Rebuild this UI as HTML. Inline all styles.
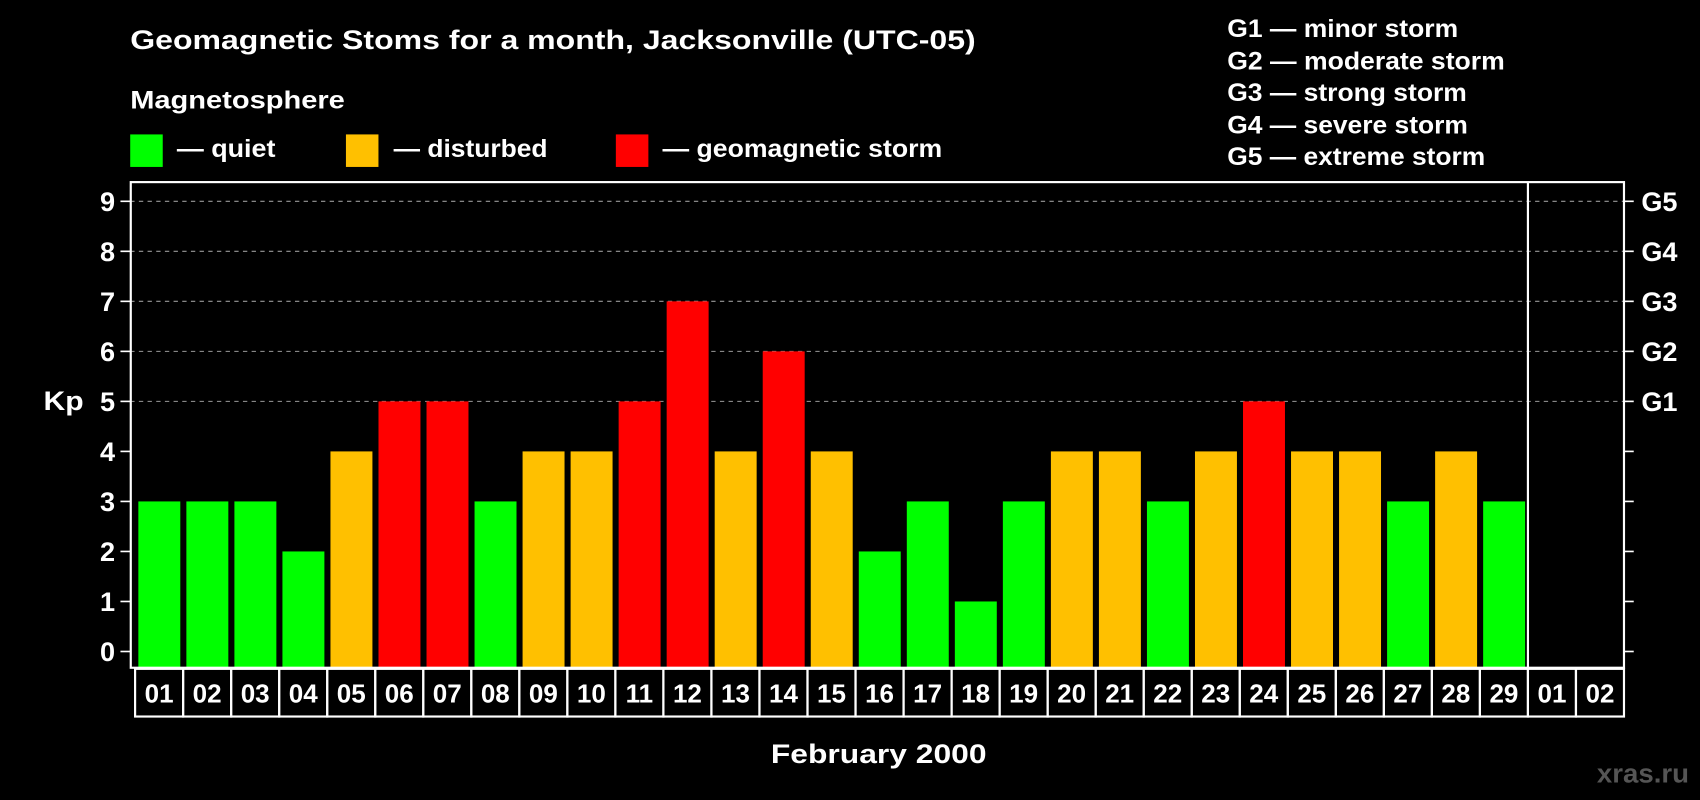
<!DOCTYPE html>
<html><head><meta charset="utf-8"><style>
html,body{margin:0;padding:0;background:#000;width:1700px;height:800px;overflow:hidden}
svg{display:block}
text{font-family:"Liberation Sans",Arial,sans-serif;font-weight:bold;fill:#fff}
</style></head><body>
<svg id="chart" width="1700" height="800" viewBox="0 0 1568 738" xmlns="http://www.w3.org/2000/svg">
<rect width="1568" height="738" fill="#000"/>
<text x="120" y="45" font-size="25" textLength="780" lengthAdjust="spacingAndGlyphs">Geomagnetic Stoms for a month, Jacksonville (UTC-05)</text>
<text x="120" y="100" font-size="23" textLength="198" lengthAdjust="spacingAndGlyphs">Magnetosphere</text>
<g><rect x="120" y="124" width="30" height="30" fill="#00ff00"/><text x="163" y="145" font-size="23" textLength="91" lengthAdjust="spacingAndGlyphs">— quiet</text></g>
<g><rect x="319" y="124" width="30" height="30" fill="#ffc000"/><text x="363" y="145" font-size="23" textLength="142" lengthAdjust="spacingAndGlyphs">— disturbed</text></g>
<g><rect x="568" y="124" width="30" height="30" fill="#ff0000"/><text x="611" y="145" font-size="23" textLength="258" lengthAdjust="spacingAndGlyphs">— geomagnetic storm</text></g>
<g font-size="23">
<text x="1132" y="34" textLength="213" lengthAdjust="spacingAndGlyphs">G1 — minor storm</text>
<text x="1132" y="64" textLength="256" lengthAdjust="spacingAndGlyphs">G2 — moderate storm</text>
<text x="1132" y="93" textLength="221" lengthAdjust="spacingAndGlyphs">G3 — strong storm</text>
<text x="1132" y="123" textLength="222" lengthAdjust="spacingAndGlyphs">G4 — severe storm</text>
<text x="1132" y="152" textLength="238" lengthAdjust="spacingAndGlyphs">G5 — extreme storm</text>
</g>
<text x="40" y="378" font-size="25" textLength="37" lengthAdjust="spacingAndGlyphs">Kp</text>
<text x="711" y="704" font-size="25" textLength="199" lengthAdjust="spacingAndGlyphs">February 2000</text>
<text x="1473" y="722" font-size="25" textLength="85" lengthAdjust="spacingAndGlyphs" style="fill:#555">xras.ru</text>
<g id="grid"></g><g id="bars"></g><g id="axes"></g>
</svg>
<script>
const days=["01","02","03","04","05","06","07","08","09","10","11","12","13","14","15","16","17","18","19","20","21","22","23","24","25","26","27","28","29","01","02"];
const kp=[3,3,3,2,4,5,5,3,4,4,5,7,4,6,4,2,3,1,3,4,4,3,4,5,4,4,3,4,3,null,null];
const yTicks=[0,1,2,3,4,5,6,7,8,9];
const gLabels=["G1","G2","G3","G4","G5"];
const gLevels=[5,6,7,8,9];
const NS="http://www.w3.org/2000/svg";
const L=124.5,R=1498,T=168,B=616,slot=(R-L)/31;
const y=v=>601-v*(601-185.7)/9;
const x=i=>L+i*slot;
function mk(tag,attrs,parent){const e=document.createElementNS(NS,tag);for(const k in attrs)e.setAttribute(k,attrs[k]);parent.appendChild(e);return e;}
const grid=document.getElementById('grid'),bars=document.getElementById('bars'),axes=document.getElementById('axes');
gLevels.forEach(v=>{const l=mk('line',{x1:120,x2:R,y1:y(v),y2:y(v),stroke:'#999','stroke-dasharray':'4,4','stroke-width':1},grid);

});
kp.forEach((v,i)=>{if(v==null)return;const c=v>=5?'#ff0000':v==4?'#ffc000':'#00ff00';
const r=mk('rect',{x:x(i)+3,y:y(v),width:slot-5.6,height:B-y(v),fill:c},bars);

});
const frame=mk('rect',{x:120.5,y:T,width:R-120.5,height:B-T,fill:'none',stroke:'#fff','stroke-width':2},axes);


const sep=mk('line',{x1:x(29),x2:x(29),y1:T,y2:B,stroke:'#fff','stroke-width':2},axes);


yTicks.forEach(v=>{mk('line',{x1:111,x2:120,y1:y(v),y2:y(v),stroke:'#fff','stroke-width':1.5},axes);
mk('line',{x1:R,x2:1507,y1:y(v),y2:y(v),stroke:'#fff','stroke-width':1.5},axes);
const t=mk('text',{x:106,y:y(v)+9,'font-size':25,'text-anchor':'end'},axes);t.textContent=v;

});
gLabels.forEach((g,i)=>{const t=mk('text',{x:1514,y:y(gLevels[i])+9,'font-size':25},axes);t.textContent=g;

});
days.forEach((d,i)=>{const r=mk('rect',{x:x(i),y:617,width:slot,height:44,fill:'none',stroke:'#fff','stroke-width':2},axes);


const t=mk('text',{x:x(i)+slot/2,y:648,'font-size':24,'text-anchor':'middle'},axes);t.textContent=d;

});
</script>
</body></html>
